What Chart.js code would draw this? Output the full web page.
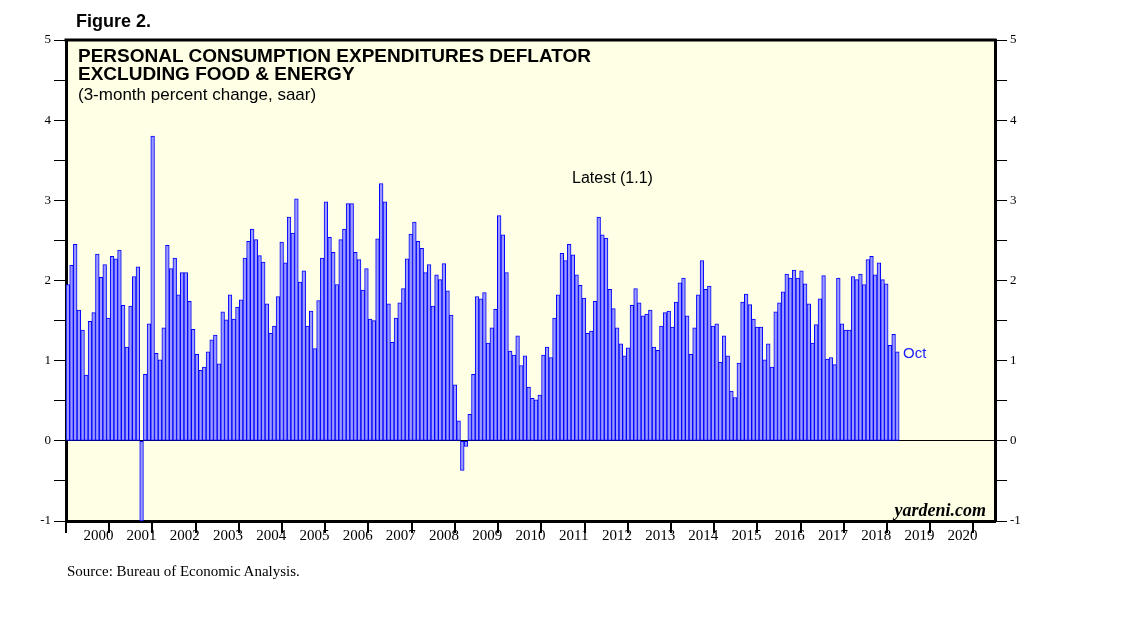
<!DOCTYPE html>
<html>
<head>
<meta charset="utf-8">
<script src="https://cdn.jsdelivr.net/npm/chart.js@4.4.1/dist/chart.umd.min.js"></script>
<style>
  body { margin: 0; background: #fff; }
  #wrap { position: relative; width: 1138px; height: 621px; overflow: hidden; }
  #chart { position: absolute; left: 0; top: 0; }
  .t { position: absolute; white-space: nowrap; line-height: 1; color: #000; }
  .sans { font-family: "Liberation Sans", Arial, sans-serif; }
  .serif { font-family: "Liberation Serif", "Times New Roman", serif; }
</style>
</head>
<body>
<div id="wrap">
  <canvas id="chart" width="1138" height="621"></canvas>
  <div class="t sans" style="left:76px; top:12px; font-size:18px; font-weight:bold;">Figure 2.</div>
  <div class="t sans" style="left:78px; top:46px; font-size:19px; font-weight:bold;">PERSONAL CONSUMPTION EXPENDITURES DEFLATOR</div>
  <div class="t sans" style="left:78px; top:64px; font-size:19px; font-weight:bold;">EXCLUDING FOOD &amp; ENERGY</div>
  <div class="t sans" style="left:78px; top:86px; font-size:17px;">(3-month percent change, saar)</div>
  <div class="t sans" style="left:572px; top:170px; font-size:16px;">Latest (1.1)</div>
  <div class="t sans" style="left:903px; top:345px; font-size:15px; color:#1a1aff;">Oct</div>
  <div class="t serif" style="right:152px; top:501px; font-size:18px; font-weight:bold; font-style:italic;">yardeni.com</div>
  <div class="t serif" style="left:67px; top:564px; font-size:15px;">Source: Bureau of Economic Analysis.</div>
</div>
<script>
/* DATA: monthly 3-month % change, saar */

const years = ["2000", "2001", "2002", "2003", "2004", "2005", "2006", "2007",
  "2008", "2009", "2010", "2011", "2012", "2013", "2014", "2015", "2016",
  "2017", "2018", "2019", "2020"];

const months = ["Jan", "Feb", "Mar", "Apr", "May", "Jun",
  "Jul", "Aug", "Sep", "Oct", "Nov", "Dec"];

const v2000 = [1.95, 2.19, 2.45, 1.63, 1.38, 0.82, 1.49, 1.60, 2.33, 2.04, 2.20, 1.53];
const v2001 = [2.30, 2.27, 2.38, 1.69, 1.17, 1.68, 2.05, 2.17, -1.00, 0.83, 1.46, 3.80];
const v2002 = [1.09, 1.01, 1.41, 2.44, 2.15, 2.28, 1.82, 2.10, 2.10, 1.74, 1.39, 1.08];
const v2003 = [0.88, 0.92, 1.11, 1.26, 1.32, 0.96, 1.61, 1.51, 1.82, 1.52, 1.67, 1.76];
const v2004 = [2.28, 2.49, 2.64, 2.51, 2.31, 2.23, 1.71, 1.34, 1.43, 1.80, 2.48, 2.22];
const v2005 = [2.79, 2.59, 3.02, 1.98, 2.12, 1.43, 1.62, 1.15, 1.75, 2.28, 2.98, 2.54];
const v2006 = [2.35, 1.95, 2.51, 2.64, 2.96, 2.96, 2.35, 2.26, 1.88, 2.15, 1.52, 1.50];
const v2007 = [2.52, 3.21, 2.98, 1.71, 1.23, 1.53, 1.72, 1.90, 2.27, 2.58, 2.73, 2.49];
const v2008 = [2.40, 2.10, 2.20, 1.68, 2.07, 2.01, 2.21, 1.87, 1.57, 0.70, 0.25, -0.37];
const v2009 = [-0.07, 0.33, 0.83, 1.80, 1.77, 1.85, 1.22, 1.41, 1.64, 2.81, 2.57, 2.10];
const v2010 = [1.12, 1.07, 1.31, 0.94, 1.06, 0.67, 0.53, 0.51, 0.57, 1.07, 1.17, 1.04];
const v2011 = [1.53, 1.82, 2.34, 2.25, 2.45, 2.32, 2.07, 1.94, 1.78, 1.34, 1.37, 1.74];
const v2012 = [2.79, 2.57, 2.53, 1.89, 1.65, 1.41, 1.21, 1.06, 1.16, 1.69, 1.90, 1.72];
const v2013 = [1.56, 1.58, 1.63, 1.17, 1.13, 1.43, 1.60, 1.62, 1.42, 1.73, 1.97, 2.03];
const v2014 = [1.56, 1.08, 1.41, 1.82, 2.25, 1.89, 1.93, 1.43, 1.46, 0.98, 1.31, 1.06];
const v2015 = [0.62, 0.54, 0.97, 1.73, 1.83, 1.70, 1.52, 1.42, 1.42, 1.01, 1.21, 0.92];
const v2016 = [1.61, 1.72, 1.86, 2.08, 2.03, 2.13, 2.03, 2.12, 1.96, 1.71, 1.22, 1.45];
const v2017 = [1.77, 2.06, 1.02, 1.04, 0.95, 2.03, 1.46, 1.38, 1.38, 2.05, 2.01, 2.08];
const v2018 = [1.95, 2.26, 2.30, 2.07, 2.22, 2.01, 1.96, 1.19, 1.33, 1.11];

const values = [].concat(v2000, v2001, v2002, v2003, v2004, v2005, v2006,
  v2007, v2008, v2009, v2010, v2011, v2012, v2013, v2014, v2015, v2016,
  v2017, v2018);

/* one category per month, axis runs to end of 2020 */
const labels = [];
years.forEach(y => months.forEach(m => labels.push(m + " " + y)));

/* BACKGROUND + TOP FRAME */

const framePlugin = {
  id: "frame",
  beforeDraw(chart) {
    const a = chart.chartArea, ctx = chart.ctx;
    ctx.save();
    ctx.fillStyle = "#ffffe6";
    ctx.fillRect(a.left, a.top, a.right - a.left, a.bottom - a.top);
    ctx.restore();
  },
  afterDraw(chart) {
    const a = chart.chartArea, ctx = chart.ctx;
    ctx.save();
    ctx.strokeStyle = "#000";
    ctx.lineWidth = 3;
    ctx.beginPath();
    ctx.moveTo(a.left - 1.5, a.top);
    ctx.lineTo(a.right + 1.5, a.top);
    ctx.stroke();
    ctx.restore();
  }
};

const serif = "'Liberation Serif', 'Times New Roman', serif";

function yAxis(pos, width, onArea) {
  return {
    position: pos,
    min: -1,
    max: 5,
    afterFit(s) { s.width = width; },
    ticks: {
      stepSize: 0.5,
      color: "#000",
      padding: 3,
      font: { family: serif, size: 13 },
      callback: v => Number.isInteger(v) ? String(v) : ""
    },
    grid: {
      drawOnChartArea: onArea,
      color: ctx => (ctx.tick && ctx.tick.value === 0) ? "#000" : "rgba(0,0,0,0)",
      tickColor: "#000",
      tickLength: 12,
      lineWidth: 1
    },
    border: { color: "#000", width: 3 }
  };
}

new Chart(document.getElementById("chart"), {
  type: "bar",
  data: {
    labels: labels,
    datasets: [{
      data: values,
      backgroundColor: "#9999ff",
      borderColor: "#0000ff",
      borderWidth: 1,
      borderSkipped: false,
      barPercentage: 1,
      categoryPercentage: 1
    }]
  },
  plugins: [framePlugin],
  options: {
    responsive: false,
    devicePixelRatio: 1,
    animation: false,
    layout: { padding: { left: 0, right: 103, top: 40, bottom: 70 } },
    plugins: {
      legend: { display: false },
      tooltip: { enabled: false }
    },
    scales: {
      x: { display: false },
      years: {
        type: "linear",
        position: "bottom",
        min: 0,
        max: years.length,
        afterFit(s) { s.height = 30; },
        afterBuildTicks(s) {
          const t = [];
          for (let i = 0; i <= years.length * 2; i++) t.push({ value: i / 2 });
          s.ticks = t;
        },
        ticks: {
          autoSkip: false,
          maxRotation: 0,
          color: "#000",
          padding: -6,
          font: { family: serif, size: 15 },
          callback: v => Number.isInteger(v) ? "" : years[Math.floor(v)]
        },
        grid: {
          drawOnChartArea: false,
          tickLength: 12,
          lineWidth: 2,
          color: "rgba(0,0,0,0)",
          tickColor: ctx => (ctx.tick && Number.isInteger(ctx.tick.value)) ? "#000" : "rgba(0,0,0,0)"
        },
        border: { color: "#000", width: 3 }
      },
      y: yAxis("left", 66, true),
      y2: yAxis("right", 40, false)
    }
  }
});
</script>
</body>
</html>
